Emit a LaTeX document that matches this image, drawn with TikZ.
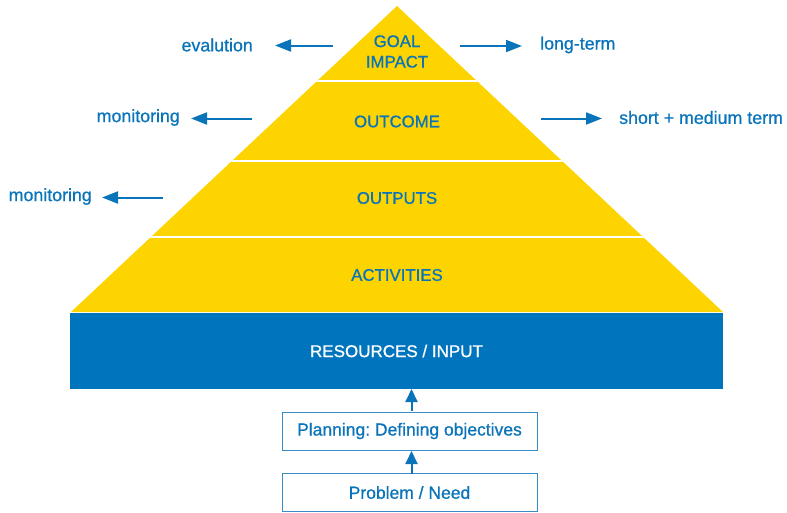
\documentclass[tikz,border=0pt]{standalone}
\usepackage{fontspec}
\setmainfont[FakeBold=0.8]{Liberation Sans}
\usetikzlibrary{arrows.meta}
\definecolor{pblue}{HTML}{0A74BA}
\definecolor{boxblue}{HTML}{0075BE}
\definecolor{pyellow}{HTML}{FDD400}
\definecolor{edgeblue}{HTML}{3A8CC8}
\tikzset{
  lbl/.style={text=pblue, font=\fontsize{17.8}{21}\selectfont\frenchspacing, inner sep=0pt},
  layer/.style={text=pblue, font=\fontsize{16.8}{20.5}\selectfont, inner sep=0pt},
  harrow/.style={draw=pblue, line width=2pt, -{Triangle[length=16pt,width=12pt]}},
  varrow/.style={draw=pblue, line width=2pt, -{Triangle[length=13pt,width=12pt]}},
  stepbox/.style={draw=edgeblue, line width=1pt, fill=white, minimum width=255pt, minimum height=38pt, inner sep=0pt, text=pblue, font=\fontsize{17.5}{21}\selectfont\frenchspacing},
  sep/.style={draw=white, line width=2.5pt}
}
\begin{document}
\begin{tikzpicture}[x=1pt,y=-1pt]
\useasboundingbox (0,0) rectangle (787,512);
% pyramid
\coordinate (apex) at (397,6);
\coordinate (bl) at (71,312);
\coordinate (br) at (723,312);
\fill[pyellow] (apex) -- (bl) -- (br) -- cycle;
\begin{scope}
\clip (apex) -- (bl) -- (br) -- cycle;
\draw[sep] (0,81) -- (787,81);
\draw[sep] (0,161) -- (787,161);
\draw[sep] (0,237) -- (787,237);
\end{scope}
% layer labels
\node[layer, align=center] (goal) at (397,51.5) {GOAL\\[0pt]IMPACT};
\node[layer] (outcome) at (397,121.5) {OUTCOME};
\node[layer] (outputs) at (397,198) {OUTPUTS};
\node[layer] (activities) at (397,275) {ACTIVITIES};
% resources box
\node[fill=boxblue, minimum width=653pt, minimum height=76pt, inner sep=0pt,
      text=white, font=\fontsize{17}{21}\selectfont] (res) at (396.5,351) {RESOURCES / INPUT};
% lower boxes
\node[stepbox] (plan) at (409.5,431) {Planning: Defining objectives};
\node[stepbox] (prob) at (409.5,492.5) {Problem / Need};
\coordinate (p1) at (411.5,411);
\coordinate (r1) at (411.5,389);
\coordinate (q1) at (411.5,473.5);
\coordinate (q2) at (411.5,451);
\draw[varrow] (p1) -- (r1);
\draw[varrow] (q1) -- (q2);
% side labels
\node[lbl, anchor=east] (eval) at (253,45) {evalution};
\node[lbl, anchor=west] (long) at (540,45) {long-term};
\node[lbl, anchor=east] (mon1) at (180,117.5) {monitoring};
\node[lbl, anchor=west] (short) at (619,117.5) {short + medium term};
\node[lbl, anchor=east] (mon2) at (92,196.5) {monitoring};
% side arrows
\coordinate (e1) at (333,45.5); \coordinate (e2) at (275,45.5);
\coordinate (l1) at (460,46); \coordinate (l2) at (522,46);
\coordinate (m1) at (252,118.5); \coordinate (m2) at (191,118.5);
\coordinate (s1) at (541,118.5); \coordinate (s2) at (602,118.5);
\coordinate (n1) at (163,197.5); \coordinate (n2) at (102,197.5);
\draw[harrow] (e1) -- (e2);
\draw[harrow] (l1) -- (l2);
\draw[harrow] (m1) -- (m2);
\draw[harrow] (s1) -- (s2);
\draw[harrow] (n1) -- (n2);
\end{tikzpicture}
\end{document}
